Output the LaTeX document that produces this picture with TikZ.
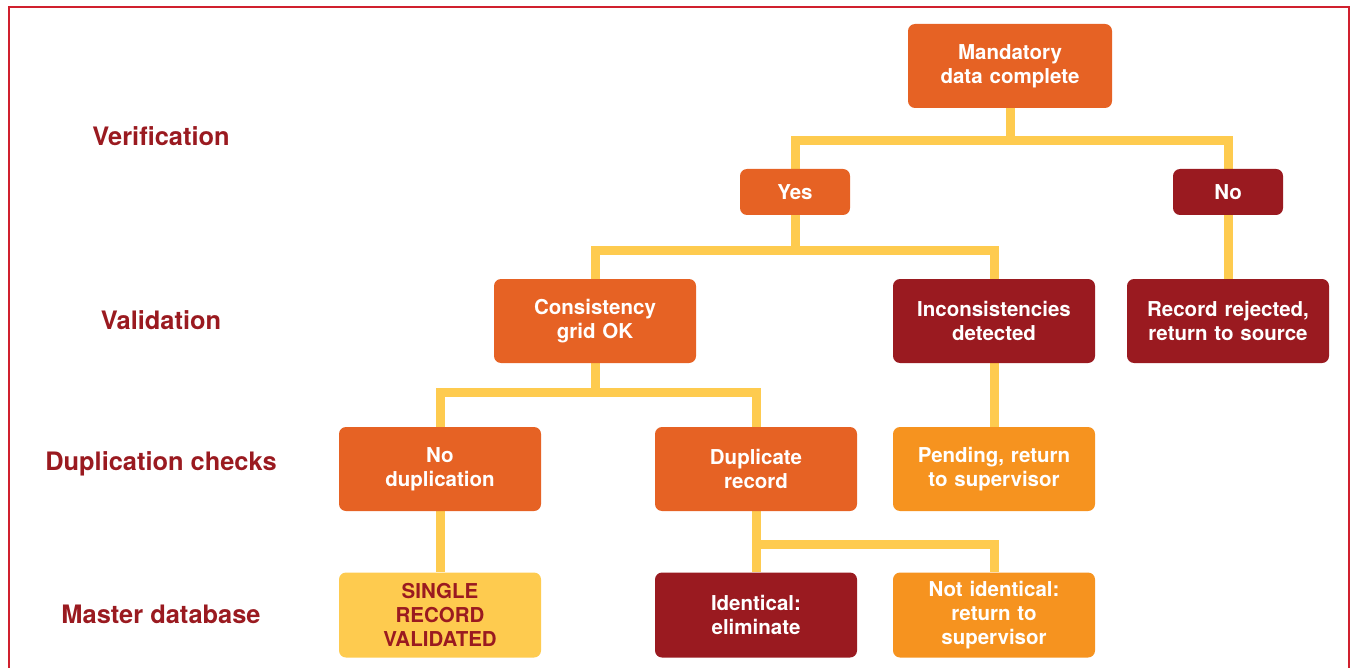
\documentclass[tikz,border=0pt]{standalone}
\usepackage{fontspec}
\setmainfont{TeX Gyre Heros}
\usetikzlibrary{backgrounds}
\definecolor{framered}{HTML}{D0202E}
\definecolor{burnt}{HTML}{E66224}
\definecolor{maroon}{HTML}{9A1A20}
\definecolor{amber}{HTML}{F6931F}
\definecolor{sun}{HTML}{FECB4F}
\tikzset{
  box/.style={rounded corners=7pt, minimum width=202pt, minimum height=84pt,
    text width=196pt, align=center, inner sep=0pt, text=white,
    font=\fontsize{20.5}{24}\selectfont\bfseries},
  smallbox/.style={box, minimum width=110pt, minimum height=46pt, text width=104pt},
  stage/.style={text=maroon, font=\fontsize{25.4}{29}\selectfont\bfseries},
  conn/.style={draw=sun, line width=9pt, line join=miter}
}
\begin{document}
\begin{tikzpicture}[x=1pt,y=-1pt]
\useasboundingbox (0,0) rectangle (1351,668);
% outer frame, open at the bottom
\draw[framered, line width=2pt] (9,668) -- (9,7) -- (1349,7) -- (1349,668);

% stage labels
\node[stage] (lver) at (161,136) {Verification};
\node[stage] (lval) at (161,320) {Validation};
\node[stage] (ldup) at (161,464) {Duplication checks};
\node[stage] (lmas) at (161,614) {Master database};

% decision tree
\node[box, fill=burnt, minimum width=204pt] (mand) at (1010,66) {Mandatory\\data complete};
\node[smallbox, fill=burnt] (yes) at (795,192) {Yes};
\node[smallbox, fill=maroon] (no) at (1228,192) {No};
\node[box, fill=burnt] (cons) at (595,321) {Consistency\\grid OK};
\node[box, fill=maroon] (incons) at (994,321) {Inconsistencies\\detected};
\node[box, fill=maroon] (rej) at (1228,321) {Record rejected,\\return to source};
\node[box, fill=burnt] (nodup) at (440,469) {No\\duplication};
\node[box, fill=burnt] (dup) at (756,469) {Duplicate\\record};
\node[box, fill=amber] (pend) at (994,469) {Pending, return\\to supervisor};
\node[box, fill=sun, text=maroon, minimum height=85pt] (single) at (440,615) {SINGLE\\RECORD\\VALIDATED};
\node[box, fill=maroon, minimum height=85pt] (ident) at (756,615) {Identical:\\eliminate};
\node[box, fill=amber, minimum height=85pt] (notid) at (994,615) {Not identical:\\return to\\supervisor};

% connectors
\begin{scope}[on background layer]
\draw[conn] (mand.south) -- ++(0,32) -| (yes.north);
\draw[conn] (mand.south) -- ++(0,32) -| (no.north);
\draw[conn] (yes.south) -- ++(0,35) -| (cons.north);
\draw[conn] (yes.south) -- ++(0,35) -| (incons.north);
\draw[conn] (no.south) -- (rej.north);
\draw[conn] (cons.south) -- ++(0,29) -| (nodup.north);
\draw[conn] (cons.south) -- ++(0,29) -| (dup.north);
\draw[conn] (incons.south) -- (pend.north);
\draw[conn] (nodup.south) -- (single.north);
\draw[conn] (dup.south) -- (ident.north);
\draw[conn] (dup.south) -- ++(0,33) -| (notid.north);
\end{scope}
\end{tikzpicture}
\end{document}
